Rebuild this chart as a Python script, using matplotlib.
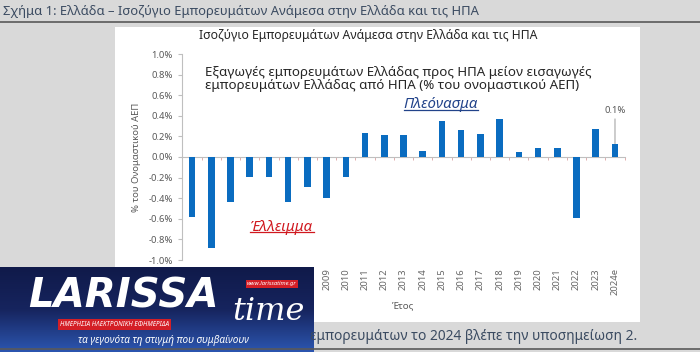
import numpy as np
import matplotlib
matplotlib.use("Agg")
from matplotlib import pyplot as plt
from matplotlib.patches import Rectangle
from matplotlib.lines import Line2D

plt.rcParams['font.family'] = ['Noto Sans', 'DejaVu Sans']

# ---------------- data ----------------
years = ['2002', '2003', '2004', '2005', '2006', '2007', '2008', '2009', '2010',
         '2011', '2012', '2013', '2014', '2015', '2016', '2017', '2018', '2019',
         '2020', '2021', '2022', '2023', '2024e']
balance = [-0.58, -0.88, -0.44, -0.19, -0.19, -0.44, -0.29, -0.40, -0.19,
           0.23, 0.21, 0.21, 0.06, 0.35, 0.26, 0.22, 0.37, 0.045,
           0.09, 0.09, -0.59, 0.27, 0.13]
yticks = [-1.0, -0.8, -0.6, -0.4, -0.2, 0.0, 0.2, 0.4, 0.6, 0.8, 1.0]

fig_title = "Σχήμα 1: Ελλάδα – Ισοζύγιο Εμπορευμάτων Ανάμεσα στην Ελλάδα και τις ΗΠΑ"
chart_title = "Ισοζύγιο Εμπορευμάτων Ανάμεσα στην Ελλάδα και τις ΗΠΑ"
note = ("Εξαγωγές εμπορευμάτων Ελλάδας προς ΗΠΑ μείον εισαγωγές\n"
        "εμπορευμάτων Ελλάδας από ΗΠΑ (% του ονομαστικού ΑΕΠ)")
footer = "εμπορευμάτων το 2024 βλέπε την υποσημείωση 2."

W, H = 700, 352
BLUE = '#0a6cc0'
GRAY_TXT = '#595959'
AX_GRAY = '#bfbfbf'


def fx(px):
    return px / W


def fy(py):
    return 1 - py / H


fig = plt.figure(figsize=(7.0, 3.52), dpi=100)
fig.patch.set_facecolor('#d9d9d9')

# heading + rules
fig.text(fx(3), fy(12), fig_title, fontsize=9.35, color='#3b4b61',
         ha='left', va='center')
fig.add_artist(Line2D([0, 1], [fy(22), fy(22)], color='#595959', lw=1.2))
fig.add_artist(Line2D([0, 1], [fy(349), fy(349)], color='#595959', lw=1.2))
fig.text(fx(637), fy(336), footer, fontsize=9.9, color='#3b4b61',
         ha='right', va='center')

# white chart panel
fig.add_artist(Rectangle((fx(115), fy(322)), fx(640) - fx(115), fy(27) - fy(322),
                         transform=fig.transFigure, facecolor='white',
                         edgecolor='none', zorder=0))
fig.text(fx(368), fy(35), chart_title, fontsize=8.8, color='#262626',
         ha='center', va='center')

ax = fig.add_axes([fx(182.4), fy(260), (624.6 - 182.4) / W, 206 / H])
ax.set_facecolor('none')
x = np.arange(len(years))
ax.bar(x, balance, width=0.34, color=BLUE, zorder=3)
ax.set_xlim(-0.5, len(years) - 0.5)
ax.set_ylim(-1.0, 1.0)

ax.set_yticks(yticks)
ax.set_yticklabels(['%.1f%%' % v for v in yticks])
ax.tick_params(axis='y', labelsize=6.8, labelcolor=GRAY_TXT, color=AX_GRAY,
               length=3, pad=4)
ax.set_ylabel('% του Ονομαστικού ΑΕΠ', fontsize=6.8, color=GRAY_TXT, labelpad=5)

for s in ['top', 'right']:
    ax.spines[s].set_visible(False)
ax.spines['left'].set_color(AX_GRAY)
ax.spines['bottom'].set_position(('data', 0))
ax.spines['bottom'].set_color(AX_GRAY)
ax.set_xticks(x)
ax.set_xticklabels([])
ax.tick_params(axis='x', which='major', length=0)
ax.set_xticks(np.arange(len(years) + 1) - 0.5, minor=True)
ax.tick_params(axis='x', which='minor', length=2.5, color='#d9a0a0', direction='out')

sec = ax.secondary_xaxis(0)
sec.set_xticks(x)
sec.set_xticklabels(years, rotation=90)
sec.tick_params(length=0, labelsize=6.8, labelcolor='#666666', pad=6)
sec.spines['bottom'].set_visible(False)
sec.set_xlabel('Έτος', fontsize=7, color=GRAY_TXT, labelpad=4)

ax.text(0.05, 0.94, note, transform=ax.transAxes, fontsize=9.6, color='#262626',
        ha='left', va='top', linespacing=0.95)

# last value label with leader line
ax.annotate('0.1%', xy=(x[-1], balance[-1]), xytext=(x[-1], 0.41),
            fontsize=6.8, color=GRAY_TXT, ha='center', va='bottom',
            arrowprops=dict(arrowstyle='-', color='#a6a6a6', lw=0.8,
                            shrinkA=1, shrinkB=0))

fig.canvas.draw()
renderer = fig.canvas.get_renderer()


def underlined(xd, yd, label, color):
    t = ax.text(xd, yd, label, fontsize=10.8, style='italic', color=color,
                ha='center', va='center', zorder=5)
    bb = t.get_window_extent(renderer).transformed(fig.transFigure.inverted())
    fig.add_artist(Line2D([bb.x0, bb.x1], [bb.y0 + 0.007, bb.y0 + 0.007],
                          color=color, lw=0.9))


underlined(12.95, 0.51, 'Πλεόνασμα', '#22438a')
underlined(4.68, -0.68, 'Έλλειμμα', '#d0181f')

# ---------------- logo overlay ----------------
lg = fig.add_axes([0, fy(352), fx(314), fy(267) - fy(352)])
grad = np.linspace(0, 1, 100).reshape(-1, 1)
lg.imshow(grad, aspect='auto', cmap=matplotlib.colors.LinearSegmentedColormap.from_list(
    'lg', ['#2c56b0', '#16245e', '#101a4a']), extent=[0, 1, 0, 1], origin='lower')
lg.set_xlim(0, 1)
lg.set_ylim(0, 1)
lg.axis('off')
lg.text(0.09, 0.655, 'LARISSA', fontsize=29, fontweight='bold', style='italic',
        color='white', ha='left', va='center', family='DejaVu Sans')
lg.text(0.74, 0.48, 'time', fontsize=23, style='italic', color='white',
        ha='left', va='center', family='DejaVu Serif')
lg.text(0.945, 0.8, 'www.larissatime.gr', fontsize=4.2, fontweight='bold',
        style='italic', color='white', ha='right', va='center',
        bbox=dict(boxstyle='square,pad=0.25', fc='#d41f26', ec='none'))
lg.text(0.19, 0.32, 'ΗΜΕΡΗΣΙΑ ΗΛΕΚΤΡΟΝΙΚΗ ΕΦΗΜΕΡΙΔΑ', fontsize=4.6,
        fontweight='bold', style='italic', color='white', ha='left', va='center',
        bbox=dict(boxstyle='square,pad=0.3', fc='#d41f26', ec='none'))
lg.text(0.52, 0.13, 'τα γεγονότα τη στιγμή που συμβαίνουν', fontsize=7.2,
        style='italic', color='white', ha='center', va='center')

fig.savefig('out.png', dpi=100, facecolor=fig.get_facecolor())
